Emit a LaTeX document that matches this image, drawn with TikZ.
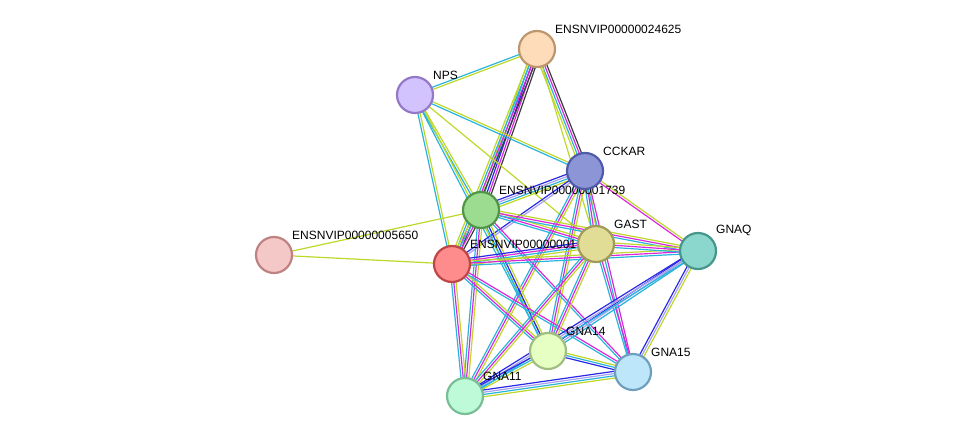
\documentclass[tikz,border=0pt]{standalone}
\usepackage{fontspec}
\setmainfont{Liberation Sans}
\usetikzlibrary{calc,backgrounds}
\definecolor{tm}{RGB}{190,215,40}
\definecolor{db}{RGB}{40,180,220}
\definecolor{ex}{RGB}{220,40,220}
\definecolor{co}{RGB}{60,60,60}
\definecolor{cu}{RGB}{40,40,230}
\definecolor{ho}{RGB}{170,160,240}
\tikzset{evidence/.style={line width=1.2pt}}
% one line per evidence colour, offset sideways
\newcommand\linkup[3]{%
  \foreach \c/\o in {#3}{%
    \draw[evidence,\c] ($(#1)!\o*1.4pt!90:(#2)$) -- ($(#2)!\o*1.4pt!-90:(#1)$);}}
\begin{document}
\begin{tikzpicture}[x=1pt,y=-1pt,
    prot/.style={circle,draw,line width=2.2pt,minimum size=36pt,inner sep=0pt},
    lbl/.style={font=\fontsize{12}{12}\selectfont,anchor=south west,inner sep=0pt},
  ]
  \useasboundingbox (0,0) rectangle (976,442);

  % labels first, so nodes overlap them
  \node[lbl] at (555,34) {ENSNVIP00000024625};
  \node[lbl] at (433,80) {NPS};
  \node[lbl] at (603,156) {CCKAR};
  \node[lbl] at (499,195) {ENSNVIP00000001739};
  \node[lbl] at (292,240) {ENSNVIP00000005650};
  \node[lbl] at (470,249) {ENSNVIP000000016};
  \node[lbl] at (614,229) {GAST};
  \node[lbl] at (716,236) {GNAQ};
  \node[lbl] at (566,336) {GNA14};
  \node[lbl] at (651,357) {GNA15};
  \node[lbl] at (483,381) {GNA11};

  \node[prot,fill={rgb,255:red,255;green,220;blue,185},draw={rgb,255:red,190;green,150;blue,110}] (e24625) at (537,49) {};
  \node[prot,fill={rgb,255:red,210;green,195;blue,255},draw={rgb,255:red,150;green,120;blue,200}] (nps) at (415,95) {};
  \node[prot,fill={rgb,255:red,140;green,150;blue,215},draw={rgb,255:red,80;green,90;blue,170}] (cckar) at (585,171) {};
  \node[prot,fill={rgb,255:red,155;green,220;blue,145},draw={rgb,255:red,80;green,150;blue,70}] (e1739) at (481,210) {};
  \node[prot,fill={rgb,255:red,245;green,200;blue,200},draw={rgb,255:red,190;green,130;blue,130}] (e5650) at (274,255) {};
  \node[prot,fill={rgb,255:red,255;green,140;blue,140},draw={rgb,255:red,190;green,70;blue,70}] (e16) at (452,264) {};
  \node[prot,fill={rgb,255:red,225;green,220;blue,150},draw={rgb,255:red,160;green,155;blue,90}] (gast) at (596,244) {};
  \node[prot,fill={rgb,255:red,140;green,215;blue,205},draw={rgb,255:red,70;green,150;blue,140}] (gnaq) at (698,251) {};
  \node[prot,fill={rgb,255:red,230;green,255;blue,195},draw={rgb,255:red,160;green,190;blue,130}] (gna14) at (548,351) {};
  \node[prot,fill={rgb,255:red,190;green,230;blue,250},draw={rgb,255:red,110;green,160;blue,190}] (gna15) at (633,372) {};
  \node[prot,fill={rgb,255:red,190;green,250;blue,215},draw={rgb,255:red,120;green,190;blue,150}] (gna11) at (465,396) {};

  \begin{scope}[on background layer]
    \linkup{e24625}{nps}{db/-0.8,tm/0.8}
    \linkup{e24625}{cckar}{tm/-2.4,db/-0.8,ex/0.8,co/2.4}
    \linkup{e24625}{e1739}{tm/-3.2,db/-1.6,cu/0,ex/1.6,co/3.2}
    \linkup{e24625}{e16}{tm/-2.4,db/-0.8,ex/0.8,co/2.4}
    \linkup{e24625}{gast}{tm/0}
    \linkup{nps}{cckar}{db/-0.8,tm/0.8}
    \linkup{nps}{e1739}{db/-0.8,tm/0.8}
    \linkup{nps}{e16}{db/-0.8,tm/0.8}
    \linkup{nps}{gast}{tm/0}
    \linkup{nps}{gna14}{db/-0.8,tm/0.8}
    \linkup{cckar}{e1739}{cu/-2.4,ho/-0.8,db/0.8,tm/2.4}
    \linkup{cckar}{e16}{cu/-0.8,ho/0.8}
    \linkup{cckar}{gast}{db/-1.6,ex/0,tm/1.6}
    \linkup{cckar}{gnaq}{ex/-0.8,tm/0.8}
    \linkup{cckar}{gna14}{db/-1.6,ex/0,tm/1.6}
    \linkup{cckar}{gna15}{db/-0.8,ex/0.8}
    \linkup{cckar}{gna11}{db/-1.6,ex/0,tm/1.6}
    \linkup{e1739}{e5650}{tm/0}
    \linkup{e5650}{e16}{tm/0}
    \linkup{e1739}{e16}{tm/-2.4,db/-0.8,ex/0.8,co/2.4}
    \linkup{e1739}{gast}{db/-1.6,ex/0,tm/1.6}
    \linkup{e1739}{gnaq}{db/-1.6,ex/0,tm/1.6}
    \linkup{e1739}{gna14}{db/-1.6,cu/0,tm/1.6}
    \linkup{e1739}{gna15}{db/-0.8,ex/0.8}
    \linkup{e1739}{gna11}{db/-1.6,ex/0,tm/1.6}
    \linkup{e16}{gast}{tm/-2.4,db/-0.8,ex/0.8,cu/2.4}
    \linkup{e16}{gnaq}{db/-1.6,ex/0,tm/1.6}
    \linkup{e16}{gna14}{db/-1.6,ex/0,tm/1.6}
    \linkup{e16}{gna15}{db/-0.8,ex/0.8}
    \linkup{e16}{gna11}{db/-1.6,ex/0,tm/1.6}
    \linkup{gast}{gnaq}{db/-1.6,ex/0,tm/1.6}
    \linkup{gast}{gna14}{db/-1.6,ex/0,tm/1.6}
    \linkup{gast}{gna15}{db/-0.8,ex/0.8}
    \linkup{gast}{gna11}{db/-1.6,ex/0,tm/1.6}
    \linkup{gnaq}{gna14}{cu/-1.6,ho/0,db/1.6}
    \linkup{gnaq}{gna15}{cu/-1.6,ho/0,tm/1.6}
    \linkup{gnaq}{gna11}{cu/-1.6,ho/0,db/1.6}
    \linkup{gna14}{gna15}{cu/-1.6,db/0,tm/1.6}
    \linkup{gna14}{gna11}{cu/-1.6,db/0,tm/1.6}
    \linkup{gna15}{gna11}{cu/-2.4,ho/-0.8,db/0.8,tm/2.4}
  \end{scope}
\end{tikzpicture}
\end{document}
